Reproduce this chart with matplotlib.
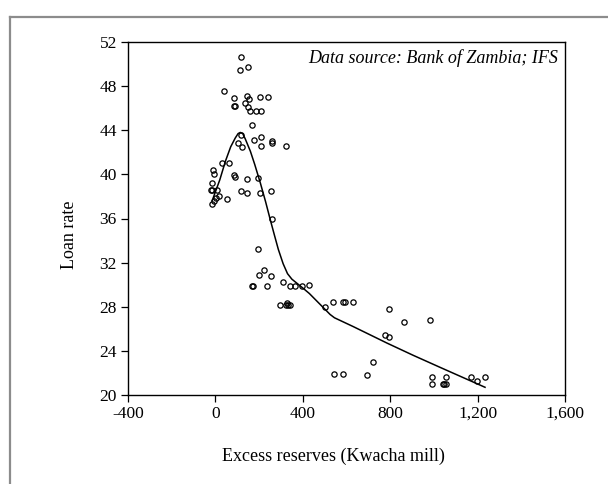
import matplotlib
matplotlib.use("Agg")
import matplotlib.pyplot as plt
from matplotlib.ticker import FuncFormatter, FixedLocator
from matplotlib.lines import Line2D

# Monthly observations: excess reserves (Kwacha mill) vs loan rate (%)
excess_reserves = [
    119, 114, 151, 41, 87, 146, 155, 137, 206, 242,
    87, 90, 151, 160, 187, 210, 169, 119, 178, 210,
    261, 261, 105, 123, 210, 325, 32, 64, -9, -5,
    87, 90, 146, 197, -14, -14, 9, -19, 119, 146,
    206, 256, 5, 18, -5, -14, 55, 261, 197, 224,
    201, 256, 169, 172, 238, 311, 343, 366, 398, 430,
    297, 322, 329, 333, 340, 503, 539, 585, 595, 631,
    795, 864, 983, 777, 795, 722, 544, 585, 695, 991,
    991, 1054, 1040, 1047, 1054, 1168, 1198, 1234,
]
loan_rate = [
    50.6, 49.5, 49.7, 47.6, 46.9, 47.1, 46.8, 46.5, 47.0, 47.0,
    46.2, 46.2, 46.1, 45.7, 45.7, 45.7, 44.5, 43.6, 43.1, 43.4,
    43.0, 42.8, 42.8, 42.5, 42.6, 42.6, 41.0, 41.0, 40.4, 40.0,
    39.9, 39.8, 39.6, 39.7, 39.2, 38.6, 38.6, 38.6, 38.5, 38.3,
    38.3, 38.5, 37.9, 38.0, 37.6, 37.3, 37.8, 36.0, 33.2, 31.3,
    30.9, 30.8, 29.9, 29.9, 29.9, 30.2, 29.9, 29.9, 29.9, 30.0,
    28.2, 28.2, 28.3, 28.2, 28.2, 28.0, 28.4, 28.4, 28.4, 28.4,
    27.8, 26.6, 26.8, 25.4, 25.3, 23.0, 21.9, 21.9, 21.8, 21.6,
    21.0, 21.6, 21.0, 21.0, 21.0, 21.6, 21.3, 21.6,
]

# Local (lowess-type) fit through the scatter
fit_x = [-15, 20, 46, 70, 91, 104, 114, 125, 137, 160, 180, 206, 230, 251, 270,
         288, 310, 330, 350, 375, 400, 430, 470, 500, 525, 545, 631, 786, 905, 1029, 1234]
fit_y = [37.6, 39.5, 41.2, 42.5, 43.3, 43.7, 43.8, 43.7, 43.2, 42.1, 40.9, 39.2, 37.5, 35.9, 34.5,
         33.2, 31.9, 31.0, 30.5, 30.1, 29.7, 29.2, 28.4, 27.8, 27.3, 27.0, 26.2, 24.7, 23.6, 22.5, 20.7]

x_ticks = [-400, 0, 400, 800, 1200, 1600]
y_ticks = [20, 24, 28, 32, 36, 40, 44, 48, 52]

plt.rcParams["font.family"] = ["Liberation Serif", "DejaVu Serif"]

fig = plt.figure(figsize=(6.08, 4.84), dpi=100)
fig.patch.set_facecolor("white")

# Grey panel frame along the left and top edges
fig.add_artist(Line2D([10 / 608, 10 / 608], [0, 1 - 17 / 484], transform=fig.transFigure,
                      color="#8c8c8c", lw=1.6))
fig.add_artist(Line2D([10 / 608, 1], [1 - 17 / 484, 1 - 17 / 484], transform=fig.transFigure,
                      color="#8c8c8c", lw=1.6))

ax = fig.add_axes([128 / 608, 1 - 395 / 484, (565 - 128) / 608, (395 - 42) / 484])

ax.plot(excess_reserves, loan_rate, linestyle="none", marker="o", markersize=3.8,
        markerfacecolor="none", markeredgecolor="black", markeredgewidth=0.9)
ax.plot(fit_x, fit_y, color="black", lw=1.1)

ax.set_xlim(-400, 1600)
ax.set_ylim(20, 52)
ax.xaxis.set_major_locator(FixedLocator(x_ticks))
ax.yaxis.set_major_locator(FixedLocator(y_ticks))
ax.xaxis.set_major_formatter(FuncFormatter(lambda v, p: f"{int(v):,}"))
ax.yaxis.set_major_formatter(FuncFormatter(lambda v, p: f"{int(v)}"))
ax.tick_params(axis="both", direction="out", length=5, width=0.9, labelsize=12.5,
               colors="black", pad=3)

for s in ax.spines.values():
    s.set_linewidth(1.0)
    s.set_color("black")

ax.set_xlabel("Excess reserves (Kwacha mill)", fontsize=13)
ax.xaxis.set_label_coords(0.469, -0.15)
ax.set_ylabel("Loan rate", fontsize=13)
ax.yaxis.set_label_coords(-0.115, 0.453)

ax.text(0.985, 0.955, "Data source: Bank of Zambia; IFS", transform=ax.transAxes,
        ha="right", va="center", fontsize=13, style="italic")

fig.savefig("out.png", dpi=100, facecolor="white")
